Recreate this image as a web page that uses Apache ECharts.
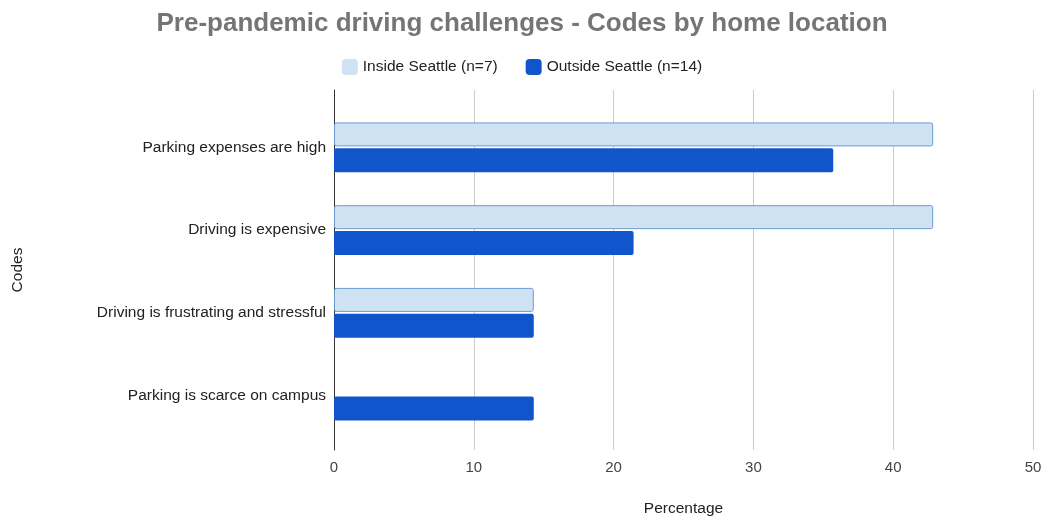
<!DOCTYPE html>
<html><head><meta charset="utf-8">
<script src="https://cdn.jsdelivr.net/npm/echarts@6/dist/echarts.min.js"></script>
<style>html,body{margin:0;padding:0;background:#fff}#c{width:1044px;height:516px}</style>
</head><body><div id="c"></div>
<script>
var categories = ['Parking expenses are high','Driving is expensive','Driving is frustrating and stressful','Parking is scarce on campus'];
var insideSeattle = [42.86, 42.86, 14.29, 0];
var outsideSeattle = [35.71, 21.43, 14.29, 14.29];
var seriesNames = ['Inside Seattle (n=7)', 'Outside Seattle (n=14)'];
var xTicks = [0, 10, 20, 30, 40, 50];

var font = "'Liberation Sans', Arial, sans-serif";
var chart = echarts.init(document.getElementById('c'));
function build(vals) {
  return vals.map(function (v) { return v === 0 ? {value: v, itemStyle: {borderWidth: 0, opacity: 0}} : v; });
}
chart.setOption({
  animation: false,
  backgroundColor: '#fff',
  title: {
    text: 'Pre-pandemic driving challenges - Codes by home location',
    left: 'center', top: 6,
    textStyle: {fontFamily: font, fontWeight: 'bold', fontSize: 26, color: '#757575'}
  },
  legend: {
    top: 54, left: 'center', itemWidth: 16, itemHeight: 16, itemGap: 28,
    textStyle: {fontFamily: font, fontSize: 15.5, color: '#222'},
    data: [{name: seriesNames[0], itemStyle: {borderWidth: 0}}, {name: seriesNames[1]}]
  },
  grid: [
    {left: 334, right: 11, top: 106, bottom: 79, outerBoundsMode: 'none'},
    {left: 334, right: 11, top: 90, bottom: 66, outerBoundsMode: 'none'}
  ],
  xAxis: [
    {gridIndex: 0, type: 'value', min: xTicks[0], max: xTicks[xTicks.length-1], interval: 10,
     axisLabel: {show: false}, splitLine: {show: false}, axisLine: {show: false}, axisTick: {show: false}},
    {gridIndex: 1, type: 'value', min: xTicks[0], max: xTicks[xTicks.length-1], interval: 10,
     name: 'Percentage', nameLocation: 'middle', nameGap: 51,
     nameTextStyle: {fontFamily: font, fontSize: 15.5, color: '#222'},
     axisLabel: {fontFamily: font, fontSize: 15, color: '#444', margin: 10},
     splitLine: {show: true, lineStyle: {color: '#ccc', width: 1}},
     axisLine: {show: false}, axisTick: {show: false}}
  ],
  yAxis: [
    {gridIndex: 0, type: 'category', inverse: true, data: categories,
     axisLine: {show: false}, axisTick: {show: false},
     axisLabel: {fontFamily: font, fontSize: 15.5, color: '#222', margin: 8}},
    {gridIndex: 1, type: 'category', data: [''],
     name: 'Codes', nameLocation: 'middle', nameGap: 308, nameRotate: 90,
     nameTextStyle: {fontFamily: font, fontSize: 15.5, color: '#222'},
     axisLine: {show: true, onZero: false, lineStyle: {color: '#333', width: 1}},
     axisTick: {show: false}, axisLabel: {show: false}}
  ],
  series: [
    {name: seriesNames[0], type: 'bar', xAxisIndex: 0, yAxisIndex: 0, data: build(insideSeattle),
     barWidth: 24, barGap: '8%',
     itemStyle: {color: '#cfe2f3', borderColor: '#6c9bd2', borderWidth: 1, borderRadius: 2}},
    {name: seriesNames[1], type: 'bar', xAxisIndex: 0, yAxisIndex: 0, data: build(outsideSeattle),
     barWidth: 24, barGap: '8%',
     itemStyle: {color: '#1155cc', borderRadius: 2}}
  ]
});
</script></body></html>
